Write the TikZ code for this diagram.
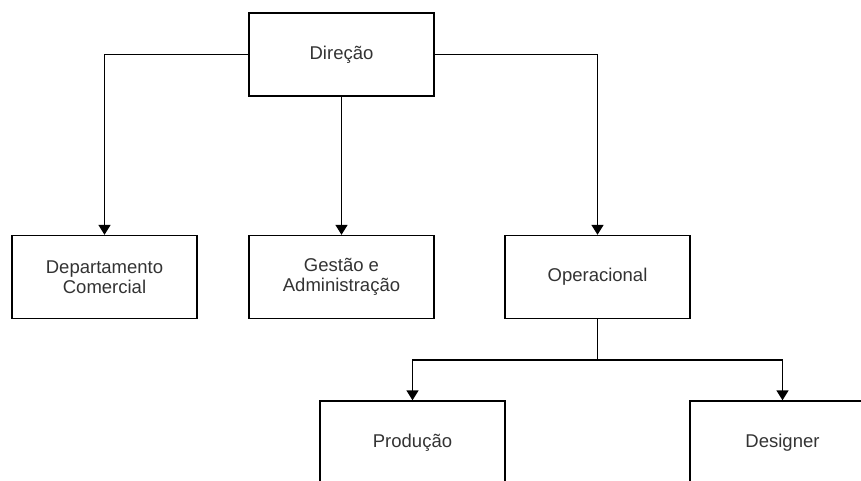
\documentclass[tikz,border=0pt]{standalone}
\usepackage{fontspec}
\setmainfont{Liberation Sans}
\usetikzlibrary{arrows.meta}
\tikzset{
  unit/.style={draw, line width=1.4pt, minimum width=185pt, minimum height=83pt,
    align=center, text=black!80, font=\fontsize{18.5}{20}\selectfont},
  link/.style={line width=1.6pt, -{Triangle[length=10pt,width=12pt]}}
}
\begin{document}
\begin{tikzpicture}[x=1pt,y=-1pt]
    \useasboundingbox (0,0) rectangle (861,480);
    \node[unit] (direcao)  at (341.5,54.5)  {Direção};
    \node[unit] (comercial) at (104.5,277)  {Departamento\\Comercial};
    \node[unit] (gestao)   at (341.5,277)   {Gestão e\\Administração};
    \node[unit] (operac)   at (597.5,277)   {Operacional};
    \node[unit] (producao) at (412.5,442.5) {Produção};
    \node[unit] (designer) at (782.5,442.5) {Designer};
    \coordinate (split) at (597.5,360);

   \draw[link] (direcao.west) -| (comercial.north);
   \draw[link] (direcao) -- (gestao);
   \draw[link] (direcao.east) -| (operac.north);
   \draw[line width=1.6pt] (operac.south) -- (split);
   \draw[link] (split) -| (producao.north);
   \draw[link] (split) -| (designer.north);
  \end{tikzpicture}
\end{document}
